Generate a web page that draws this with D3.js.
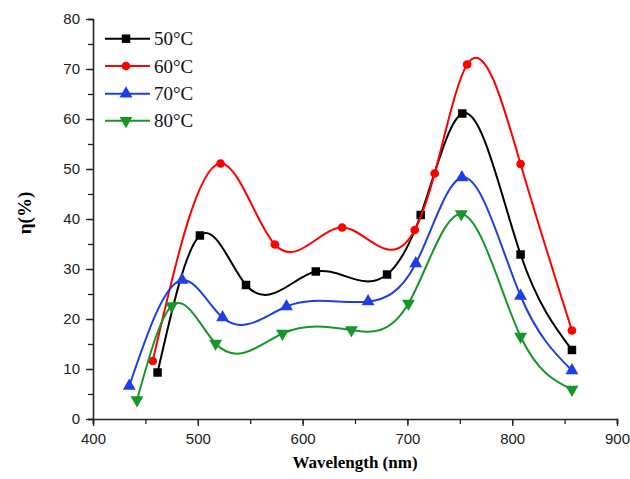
<!DOCTYPE html>
<html><head><meta charset="utf-8">
<script src="https://cdn.jsdelivr.net/npm/d3@7"></script>
<style>body{margin:0;background:#fff}svg{display:block}</style>
</head><body>
<svg id="c" width="630" height="479"></svg>
<script>
const seriesNames = ["50°C", "60°C", "70°C", "80°C"];
const seriesColors = ["#000000", "#ff0000", "#1f3fe6", "#16962a"];
const seriesSymbols = ["square", "circle", "triangle", "triangleDown"];
const wl50 = [461.6, 502, 546, 612.6, 680.6, 712.7, 752.4, 808, 857];
const eta50 = [9.3, 36.7, 26.8, 29.5, 28.9, 40.8, 61.1, 32.9, 13.8];
const wl60 = [457, 521.7, 573.5, 637.7, 707, 726, 757, 808, 857];
const eta60 = [11.6, 51.1, 34.9, 38.3, 37.8, 49.1, 70.9, 51, 17.7];
const wl70 = [434.6, 485, 523.6, 584.6, 662.5, 708, 752, 808, 857];
const eta70 = [6.6, 27.8, 20.3, 22.5, 23.5, 31.1, 48.3, 24.6, 9.7];
const wl80 = [442, 475, 517, 580.8, 646.6, 701, 751.4, 808, 857];
const eta80 = [3.8, 22.6, 15.1, 17.1, 17.8, 23.1, 41, 16.5, 5.9];
const xTicks = [400, 500, 600, 700, 800, 900];
const yTicks = [0, 10, 20, 30, 40, 50, 60, 70, 80];

const series = [
  {name: seriesNames[0], color: seriesColors[0], sym: seriesSymbols[0], x: wl50, y: eta50},
  {name: seriesNames[1], color: seriesColors[1], sym: seriesSymbols[1], x: wl60, y: eta60},
  {name: seriesNames[2], color: seriesColors[2], sym: seriesSymbols[2], x: wl70, y: eta70},
  {name: seriesNames[3], color: seriesColors[3], sym: seriesSymbols[3], x: wl80, y: eta80}
];

// Custom d3 curve: natural cubic spline y(x) drawn as Bezier segments
function curveSplineX(context) {
  let xs, ys;
  return {
    areaStart() {}, areaEnd() {},
    lineStart() { xs = []; ys = []; },
    point(px, py) { xs.push(+px); ys.push(+py); },
    lineEnd() {
      const n = xs.length;
      if (!n) return;
      context.moveTo(xs[0], ys[0]);
      if (n < 3) { if (n === 2) context.lineTo(xs[1], ys[1]); return; }
      const h = [], M = new Array(n).fill(0);
      for (let i = 0; i < n - 1; i++) h.push(xs[i + 1] - xs[i]);
      const a = [], b = [], c = [], d = [];
      for (let i = 1; i < n - 1; i++) {
        a.push(h[i - 1]); b.push(2 * (h[i - 1] + h[i])); c.push(h[i]);
        d.push(6 * ((ys[i + 1] - ys[i]) / h[i] - (ys[i] - ys[i - 1]) / h[i - 1]));
      }
      const m = b.length;
      for (let i = 1; i < m; i++) {
        const w = a[i] / b[i - 1];
        b[i] -= w * c[i - 1]; d[i] -= w * d[i - 1];
      }
      const sol = new Array(m);
      sol[m - 1] = d[m - 1] / b[m - 1];
      for (let i = m - 2; i >= 0; i--) sol[i] = (d[i] - c[i] * sol[i + 1]) / b[i];
      for (let i = 0; i < m; i++) M[i + 1] = sol[i];
      for (let i = 0; i < n - 1; i++) {
        const hi = h[i], s = (ys[i + 1] - ys[i]) / hi;
        const ml = s - hi * (2 * M[i] + M[i + 1]) / 6;
        const mr = s + hi * (M[i] + 2 * M[i + 1]) / 6;
        context.bezierCurveTo(xs[i] + hi / 3, ys[i] + hi * ml / 3,
                              xs[i + 1] - hi / 3, ys[i + 1] - hi * mr / 3,
                              xs[i + 1], ys[i + 1]);
      }
    }
  };
}

const svg = d3.select("#c");
const L = 93, R = 617, T = 19, B = 419;
const x = d3.scaleLinear().domain([400, 900]).range([L, R]);
const y = d3.scaleLinear().domain([0, 80]).range([B, T]);

const axisColor = "#222";
const gx = svg.append("g").attr("transform", `translate(0,${B})`);
gx.call(d3.axisBottom(x).tickValues(d3.range(400, 901, 50)).tickSize(5).tickFormat(""));
gx.append("g").call(d3.axisBottom(x).tickValues(xTicks).tickSize(7).tickFormat(d3.format("d")))
  .call(g => g.select(".domain").remove());
gx.selectAll("path.domain").attr("stroke", axisColor).attr("stroke-width", 1.6);
gx.selectAll(".tick line").attr("stroke", axisColor).attr("stroke-width", 1.3);
gx.selectAll("text").attr("font-family", "Liberation Sans, Arial, sans-serif")
  .attr("font-size", 15).attr("fill", "#222").attr("dy", "1.0em");

const gy = svg.append("g").attr("transform", `translate(${L},0)`);
gy.call(d3.axisLeft(y).tickValues(d3.range(0, 81, 5)).tickSize(5).tickFormat(""));
gy.append("g").call(d3.axisLeft(y).tickValues(yTicks).tickSize(7).tickFormat(d3.format("d")))
  .call(g => g.select(".domain").remove());
gy.selectAll("path.domain").attr("stroke", axisColor).attr("stroke-width", 1.6);
gy.selectAll(".tick line").attr("stroke", axisColor).attr("stroke-width", 1.3);
gy.selectAll("text").attr("font-family", "Liberation Sans, Arial, sans-serif")
  .attr("font-size", 15).attr("fill", "#222").attr("dx", "-0.2em");

svg.append("text").attr("x", 355).attr("y", 468).attr("text-anchor", "middle")
  .attr("font-family", "Liberation Serif, Times New Roman, serif").attr("font-weight", "bold")
  .attr("font-size", 17).text("Wavelength (nm)");
svg.append("text").attr("transform", "translate(31,213) rotate(-90)").attr("text-anchor", "middle")
  .attr("font-family", "Liberation Serif, Times New Roman, serif").attr("font-weight", "bold")
  .attr("font-size", 19).text("\u03b7(%)");

function symPath(sym, size) {
  const t = {square: d3.symbolSquare, circle: d3.symbolCircle, triangle: d3.symbolTriangle, triangleDown: d3.symbolTriangle}[sym];
  return d3.symbol().type(t).size(size)();
}
const symSize = {square: 72, circle: 60, triangle: 72, triangleDown: 72};

const line = d3.line().x(d => x(d[0])).y(d => y(d[1])).curve(curveSplineX);

series.forEach(s => {
  const pts = s.x.map((v, i) => [v, s.y[i]]);
  svg.append("path").datum(pts).attr("d", line).attr("fill", "none")
    .attr("stroke", s.color).attr("stroke-width", 2);
  svg.append("g").selectAll("path").data(pts).join("path")
    .attr("d", symPath(s.sym, symSize[s.sym]))
    .attr("transform", d => `translate(${x(d[0])},${y(d[1])})` + (s.sym === "triangleDown" ? " rotate(180)" : ""))
    .attr("fill", s.color);
});

const legY = [38.7, 66, 93.7, 120.7];
series.forEach((s, i) => {
  const g = svg.append("g").attr("transform", `translate(0,${legY[i]})`);
  g.append("line").attr("x1", 105).attr("x2", 150).attr("y1", 0).attr("y2", 0)
    .attr("stroke", s.color).attr("stroke-width", 2);
  g.append("path").attr("d", symPath(s.sym, symSize[s.sym]))
    .attr("transform", `translate(126,0)` + (s.sym === "triangleDown" ? " rotate(180)" : ""))
    .attr("fill", s.color);
  g.append("text").attr("x", 154).attr("y", 0).attr("dy", "0.35em")
    .attr("font-family", "Liberation Serif, Times New Roman, serif").attr("font-size", 19)
    .attr("fill", "#111").text(s.name);
});
</script>
</body></html>
